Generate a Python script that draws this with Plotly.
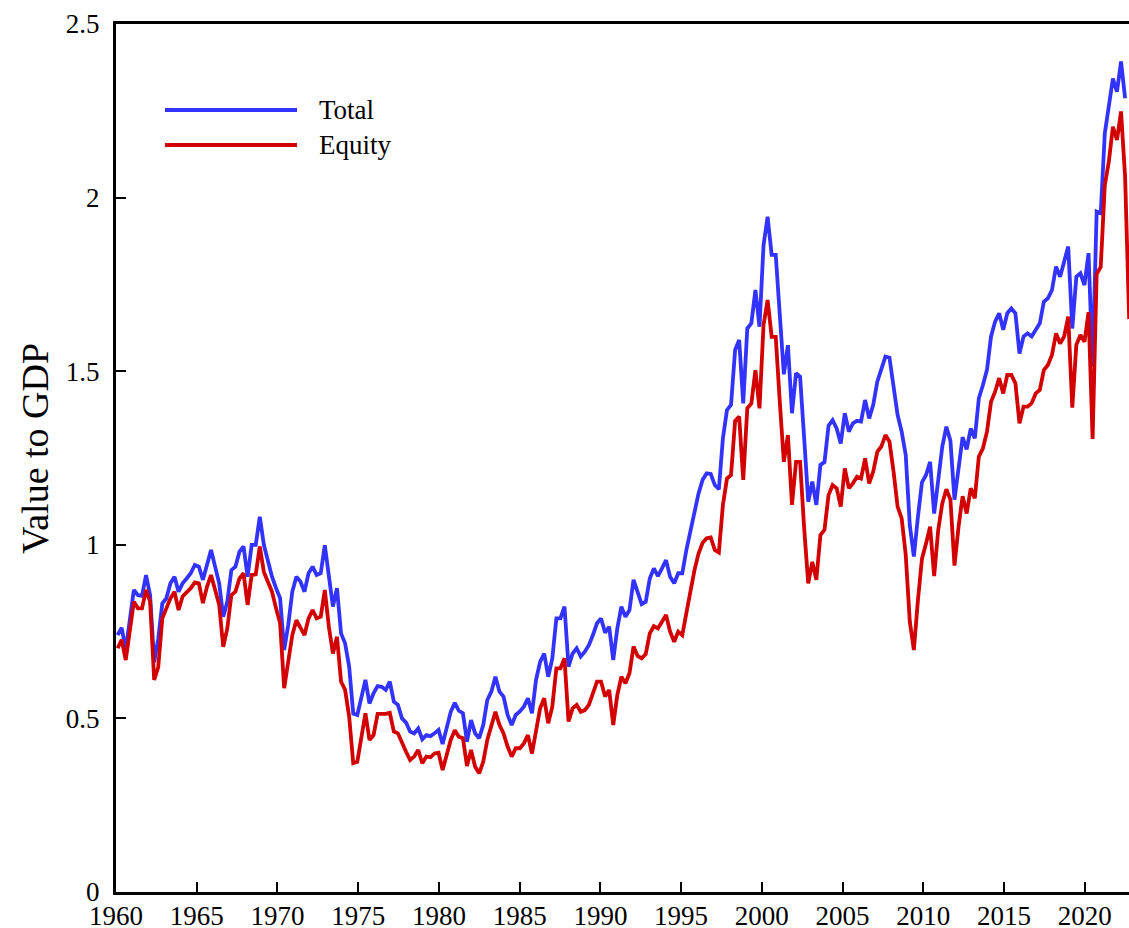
import numpy as np
import plotly.graph_objects as go

# Quarterly observations, first plotted near 1960.1 and last at the right edge (~2022.75)
n_obs = 250
first_date = 1960.10
last_date = 2022.75

total = [
    0.740, 0.761, 0.697, 0.790, 0.870, 0.855, 0.853, 0.913, 0.855, 0.662,
    0.730, 0.831, 0.846, 0.889, 0.908, 0.865, 0.889, 0.903, 0.918, 0.942,
    0.937, 0.899, 0.947, 0.985, 0.937, 0.889, 0.793, 0.836, 0.927, 0.937,
    0.980, 0.995, 0.908, 1.000, 1.000, 1.081, 1.000, 0.951, 0.908, 0.875,
    0.846, 0.697, 0.769, 0.865, 0.908, 0.894, 0.865, 0.918, 0.937, 0.913,
    0.918, 0.999, 0.908, 0.822, 0.875, 0.745, 0.716, 0.649, 0.514, 0.510,
    0.560, 0.611, 0.543, 0.572, 0.593, 0.591, 0.582, 0.606, 0.548, 0.539,
    0.500, 0.488, 0.462, 0.457, 0.471, 0.440, 0.452, 0.449, 0.457, 0.467,
    0.426, 0.476, 0.519, 0.545, 0.522, 0.515, 0.433, 0.495, 0.457, 0.443,
    0.481, 0.553, 0.577, 0.620, 0.577, 0.563, 0.510, 0.481, 0.510, 0.520,
    0.534, 0.558, 0.515, 0.611, 0.663, 0.687, 0.620, 0.673, 0.788, 0.788,
    0.822, 0.649, 0.687, 0.702, 0.678, 0.692, 0.711, 0.740, 0.774, 0.788,
    0.747, 0.764, 0.668, 0.759, 0.822, 0.793, 0.812, 0.899, 0.865, 0.829,
    0.836, 0.903, 0.932, 0.910, 0.932, 0.956, 0.908, 0.889, 0.918, 0.918,
    0.985, 1.043, 1.095, 1.148, 1.187, 1.206, 1.204, 1.172, 1.160, 1.307,
    1.388, 1.403, 1.561, 1.590, 1.407, 1.623, 1.638, 1.734, 1.628, 1.863,
    1.945, 1.835, 1.835, 1.652, 1.491, 1.575, 1.379, 1.494, 1.484, 1.307,
    1.124, 1.182, 1.115, 1.230, 1.238, 1.343, 1.359, 1.335, 1.292, 1.379,
    1.326, 1.350, 1.357, 1.355, 1.417, 1.364, 1.403, 1.470, 1.508, 1.542,
    1.539, 1.460, 1.374, 1.326, 1.259, 1.057, 0.966, 1.080, 1.180, 1.201,
    1.239, 1.090, 1.187, 1.283, 1.340, 1.300, 1.130, 1.225, 1.310, 1.275,
    1.335, 1.307, 1.422, 1.460, 1.504, 1.600, 1.643, 1.667, 1.619, 1.667,
    1.681, 1.667, 1.551, 1.600, 1.609, 1.600, 1.619, 1.638, 1.700, 1.710,
    1.734, 1.801, 1.772, 1.811, 1.859, 1.623, 1.772, 1.782, 1.748, 1.840,
    1.513, 1.960, 1.955, 2.185, 2.267, 2.343, 2.305, 2.392, 2.286, None,
]

equity = [
    0.702, 0.726, 0.668, 0.760, 0.836, 0.817, 0.817, 0.870, 0.836, 0.611,
    0.648, 0.788, 0.817, 0.846, 0.865, 0.812, 0.851, 0.863, 0.875, 0.892,
    0.889, 0.832, 0.879, 0.913, 0.870, 0.827, 0.706, 0.759, 0.855, 0.865,
    0.903, 0.918, 0.827, 0.913, 0.915, 0.995, 0.922, 0.892, 0.865, 0.817,
    0.774, 0.587, 0.663, 0.740, 0.783, 0.761, 0.740, 0.788, 0.812, 0.788,
    0.793, 0.870, 0.764, 0.687, 0.735, 0.606, 0.582, 0.505, 0.371, 0.375,
    0.445, 0.515, 0.438, 0.452, 0.513, 0.513, 0.513, 0.516, 0.462, 0.457,
    0.428, 0.404, 0.380, 0.390, 0.409, 0.371, 0.390, 0.388, 0.399, 0.401,
    0.351, 0.399, 0.438, 0.466, 0.447, 0.443, 0.363, 0.409, 0.361, 0.342,
    0.375, 0.438, 0.476, 0.519, 0.481, 0.457, 0.419, 0.390, 0.414, 0.414,
    0.428, 0.452, 0.399, 0.467, 0.529, 0.558, 0.486, 0.534, 0.644, 0.644,
    0.673, 0.491, 0.529, 0.539, 0.519, 0.524, 0.539, 0.572, 0.606, 0.606,
    0.563, 0.582, 0.481, 0.567, 0.620, 0.601, 0.630, 0.707, 0.680, 0.673,
    0.685, 0.745, 0.766, 0.759, 0.781, 0.798, 0.750, 0.721, 0.750, 0.740,
    0.803, 0.870, 0.927, 0.975, 1.006, 1.019, 1.021, 0.985, 0.978, 1.115,
    1.191, 1.201, 1.357, 1.369, 1.187, 1.393, 1.407, 1.503, 1.393, 1.633,
    1.705, 1.599, 1.599, 1.412, 1.239, 1.316, 1.115, 1.239, 1.239, 1.047,
    0.889, 0.951, 0.899, 1.028, 1.043, 1.143, 1.172, 1.163, 1.110, 1.220,
    1.163, 1.177, 1.196, 1.191, 1.249, 1.177, 1.211, 1.268, 1.283, 1.316,
    1.297, 1.211, 1.110, 1.076, 0.971, 0.779, 0.697, 0.840, 0.960, 1.004,
    1.052, 0.910, 1.043, 1.119, 1.160, 1.130, 0.940, 1.052, 1.140, 1.090,
    1.163, 1.134, 1.254, 1.278, 1.326, 1.412, 1.441, 1.480, 1.436, 1.489,
    1.489, 1.465, 1.350, 1.398, 1.398, 1.408, 1.436, 1.446, 1.503, 1.518,
    1.547, 1.609, 1.580, 1.600, 1.657, 1.395, 1.576, 1.604, 1.585, 1.670,
    1.305, 1.780, 1.800, 2.035, 2.104, 2.204, 2.166, 2.248, 2.060, 1.650,
]

x_ticks = list(range(1960, 2021, 5))
y_ticks = [0, 0.5, 1, 1.5, 2, 2.5]
series_names = ["Total", "Equity"]
series_colors = ["#3333ff", "#d20000"]

dates = np.linspace(first_date, last_date, n_obs)

W, H = 1129, 928
ML, MR, MT, MB = 116, 0, 24, 36
FONT = "Liberation Serif, Times New Roman, serif"

fig = go.Figure()
for name, vals, col in zip(series_names, [total, equity], series_colors):
    fig.add_trace(go.Scatter(x=dates, y=vals, mode="lines", name=name,
                             line=dict(color=col, width=3.8), showlegend=False,
                             hoverinfo="skip"))

axis_common = dict(ticks="inside", ticklen=10, tickwidth=2, tickcolor="black",
                   showline=True, linewidth=3, linecolor="black",
                   showgrid=False, zeroline=False, automargin=False,
                   tickfont=dict(family=FONT, size=27, color="black"))

fig.update_layout(
    width=W, height=H,
    margin=dict(l=ML, r=MR, t=MT, b=MB, autoexpand=False),
    paper_bgcolor="white", plot_bgcolor="white",
    font=dict(family=FONT, size=27, color="black"),
    xaxis=dict(range=[1960, 2022.74], tickvals=x_ticks, mirror=True,
               ticklabelstandoff=-2, **axis_common),
    yaxis=dict(range=[0, 2.5], tickvals=y_ticks, mirror=False,
               ticklabelstandoff=8, **axis_common),
)

# Legend drawn manually (long line samples)
pw = W - ML - MR
ph = H - MT - MB
def px(xp):
    return (xp - ML) / pw
def py(yp):
    return (H - MB - yp) / ph

for k, (name, col) in enumerate(zip(series_names, series_colors)):
    yy = 110 + 35 * k
    fig.add_shape(type="line", xref="paper", yref="paper",
                  x0=px(165), x1=px(297), y0=py(yy), y1=py(yy),
                  line=dict(color=col, width=4))
    fig.add_annotation(xref="paper", yref="paper", x=px(318), y=py(yy),
                       text=name, showarrow=False, xanchor="left", yanchor="middle",
                       borderpad=0,
                       font=dict(family=FONT, size=27, color="black"))

fig.add_annotation(xref="paper", yref="paper", x=px(35), y=py(449),
                   text="Value to GDP", textangle=-90, showarrow=False,
                   xanchor="center", yanchor="middle",
                   font=dict(family=FONT, size=38, color="black"))

fig.write_html("out.html",
               config={"displayModeBar": False, "staticPlot": True},
               post_script="document.body.style.margin='0';"
                           "document.body.style.overflow='hidden';")
